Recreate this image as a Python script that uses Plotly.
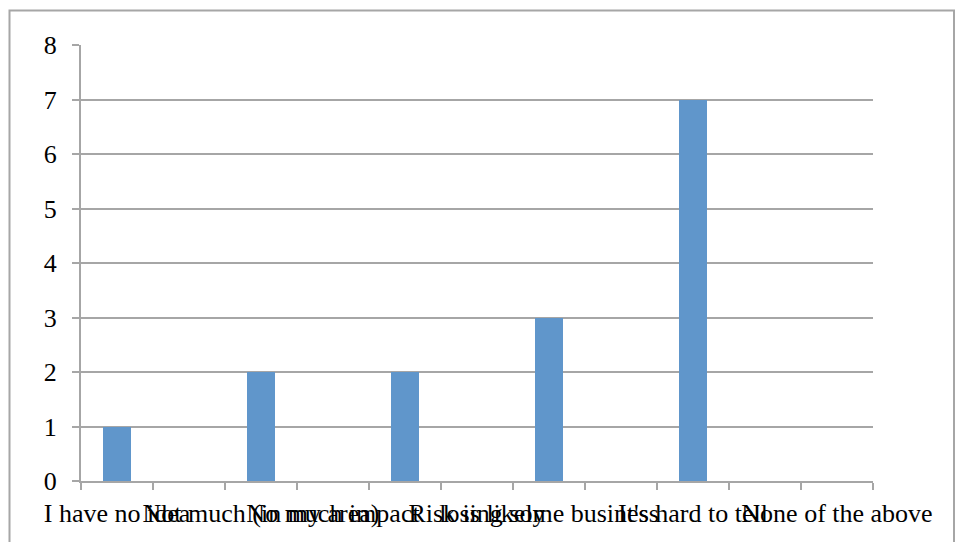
import plotly.graph_objects as go

# Survey answers, one slot per category on the x axis
categories = [
    "I have no idea",
    "",
    "Not much (in my area)",
    "No much impact",
    "",
    "Risk is likely",
    "losing some business",
    "",
    "It's hard to tell",
    "",
    "None of the above",
]
counts = [1, 0, 2, 0, 2, 0, 3, 0, 7, 0, 0]
y_ticks = [0, 1, 2, 3, 4, 5, 6, 7, 8]

positions = list(range(len(categories)))
label_pos = [p for p, c in zip(positions, categories) if c]
label_txt = [c for c in categories if c]

GRID = "#a6a6a6"
BAR = "#6096cb"
FONT = dict(family="Liberation Serif, Times New Roman, serif", size=26, color="#000000")

fig = go.Figure(
    go.Bar(
        x=positions,
        y=counts,
        width=0.4,
        marker=dict(color=BAR, line=dict(width=0)),
        showlegend=False,
    )
)

fig.update_layout(
    width=957,
    height=542,
    margin=dict(l=81, r=84, t=45, b=61),
    paper_bgcolor="white",
    plot_bgcolor="white",
    font=FONT,
    bargap=0,
    shapes=[
        # outer chart frame
        dict(
            type="rect",
            xref="paper",
            yref="paper",
            x0=(9.5 - 81) / 792,
            x1=(954 - 81) / 792,
            y0=(481 - 560) / 436,
            y1=(481 - 10.5) / 436,
            line=dict(color=GRID, width=2),
            fillcolor="rgba(0,0,0,0)",
            layer="below",
        )
    ],
)

fig.update_xaxes(
    range=[-0.5, len(categories) - 0.5],
    tickmode="array",
    tickvals=label_pos,
    ticktext=label_txt,
    tickangle=0,
    ticks="",
    ticklabelstandoff=8,
    showgrid=False,
    zeroline=False,
    showline=True,
    linecolor=GRID,
    linewidth=2,
    tickfont=FONT,
    minor=dict(
        tickmode="linear",
        tick0=-0.5,
        dtick=1,
        ticks="outside",
        ticklen=7,
        tickwidth=2,
        tickcolor=GRID,
        showgrid=False,
    ),
)

fig.update_yaxes(
    range=[0, 8],
    tickmode="array",
    tickvals=y_ticks,
    ticks="outside",
    ticklen=7,
    tickwidth=2,
    tickcolor=GRID,
    ticklabelstandoff=10,
    showgrid=True,
    gridcolor=GRID,
    gridwidth=2,
    zeroline=False,
    showline=True,
    linecolor=GRID,
    linewidth=2,
    tickfont=FONT,
)

fig.write_html("out.html")
